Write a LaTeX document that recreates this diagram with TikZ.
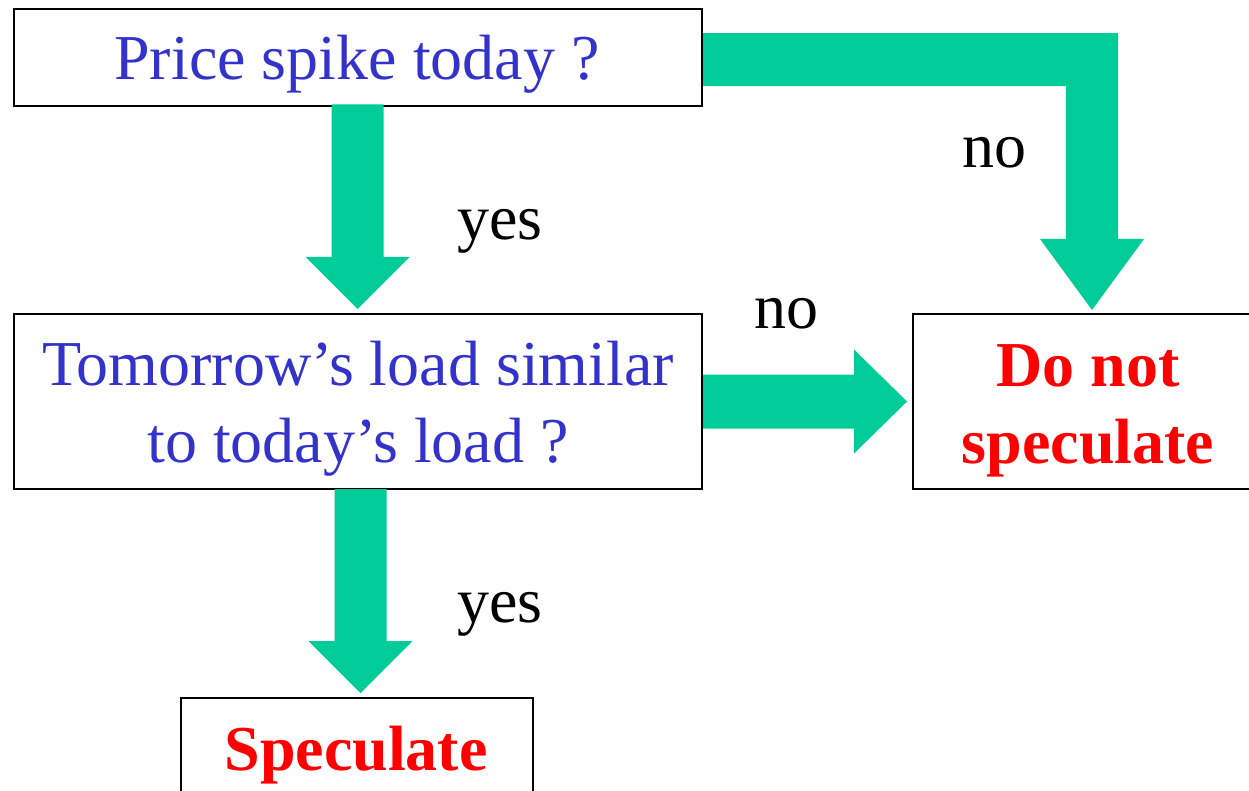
\documentclass[tikz,border=0pt]{standalone}
\usepackage{fontspec}
\setmainfont{Liberation Serif}
\usetikzlibrary{calc}
\definecolor{qblue}{RGB}{51,51,204}
\definecolor{agreen}{RGB}{0,204,153}
\definecolor{dred}{RGB}{255,0,0}
\tikzset{
  box/.style={draw=black, line width=2pt, fill=none, inner sep=0pt, anchor=north west},
  qtext/.style={font=\fontsize{64}{77}\selectfont, text=qblue, inner sep=0pt, anchor=base},
  rtext/.style={font=\fontsize{64}{77}\selectfont\bfseries, text=dred, inner sep=0pt, anchor=base},
  lbl/.style={font=\fontsize{64}{77}\selectfont, text=black, inner sep=0pt, anchor=base west},
  arr/.style={fill=agreen, draw=none}
}
\begin{document}
\begin{tikzpicture}[x=1pt,y=-1pt]
\useasboundingbox (0,0) rectangle (1249,791);
\clip (0,0) rectangle (1249,791);
% boxes
\node[box, minimum width=688pt, minimum height=97.5pt] (b1) at (13,8) {};
\node[box, minimum width=688pt, minimum height=175pt] (b2) at (13,313) {};
\node[box, minimum width=352pt, minimum height=175pt] (b3) at (912,313) {};
\node[box, minimum width=352pt, minimum height=97pt] (b4) at (180,697) {};
% texts
\node[qtext] (t1) at (357,80) {Price spike today ?};
\node[qtext] (t2a) at (358,385) {Tomorrow’s load similar};
\node[qtext] (t2b) at (358,462) {to today’s load ?};
\node[rtext] (t3a) at (1088,386) {Do not};
\node[rtext] (t3b) at (1088,463) {speculate};
\node[rtext] (t4) at (356,770) {Speculate};
% labels
\node[lbl] (l1) at (457,240) {yes};
\node[lbl] (l2) at (962,168) {no};
\node[lbl] (l3) at (754,328) {no};
\node[lbl] (l4) at (457,622) {yes};
% arrow 1: b1 -> b2 (yes)
\coordinate (a1s) at ([yshift=3pt]b1.south);
\coordinate (a1t) at ([yshift=4pt,xshift=-0.5pt]b2.north);
\fill[arr] ($(a1t|-a1s)+(-26,0)$) -- ($(a1t|-a1s)+(26,0)$) -- ($(a1t)+(26,-52)$) -- ($(a1t)+(52,-52)$) -- (a1t)
  -- ($(a1t)+(-52,-52)$) -- ($(a1t)+(-26,-52)$) -- cycle;
% arrow 2: b1 -> b3 (no), bent
\coordinate (a2s) at ([yshift=-2pt]b1.east);
\coordinate (a2t) at ([yshift=3pt,xshift=3pt]b3.north);
\fill[arr] ($(a2s)+(0,-26.5)$) -- ($(a2t|-a2s)+(26,-26.5)$) -- ($(a2t)+(26,-71)$) -- ($(a2t)+(52,-71)$) -- (a2t)
  -- ($(a2t)+(-52,-71)$) -- ($(a2t)+(-26,-71)$) -- ($(a2t|-a2s)+(-26,26.5)$) -- ($(a2s)+(0,26.5)$) -- cycle;
% arrow 3: b2 -> b3 (no)
\coordinate (a3s) at (b2.east);
\coordinate (a3t) at ([xshift=-5pt]b3.west);
\fill[arr] ($(a3s|-a3t)+(0,-27)$) -- ($(a3t)+(-53,-27)$) -- ($(a3t)+(-53,-52)$) -- (a3t)
  -- ($(a3t)+(-53,52)$) -- ($(a3t)+(-53,27)$) -- ($(a3s|-a3t)+(0,27)$) -- cycle;
% arrow 4: b2 -> b4 (yes)
\coordinate (a4t) at ([yshift=4pt,xshift=3.5pt]b4.north);
\coordinate (a4s) at ([yshift=1pt]b2.south);
\fill[arr] ($(a4t|-a4s)+(-26,0)$) -- ($(a4t|-a4s)+(26,0)$) -- ($(a4t)+(26,-52)$) -- ($(a4t)+(52,-52)$) -- (a4t)
  -- ($(a4t)+(-52,-52)$) -- ($(a4t)+(-26,-52)$) -- cycle;
\end{tikzpicture}
\end{document}
